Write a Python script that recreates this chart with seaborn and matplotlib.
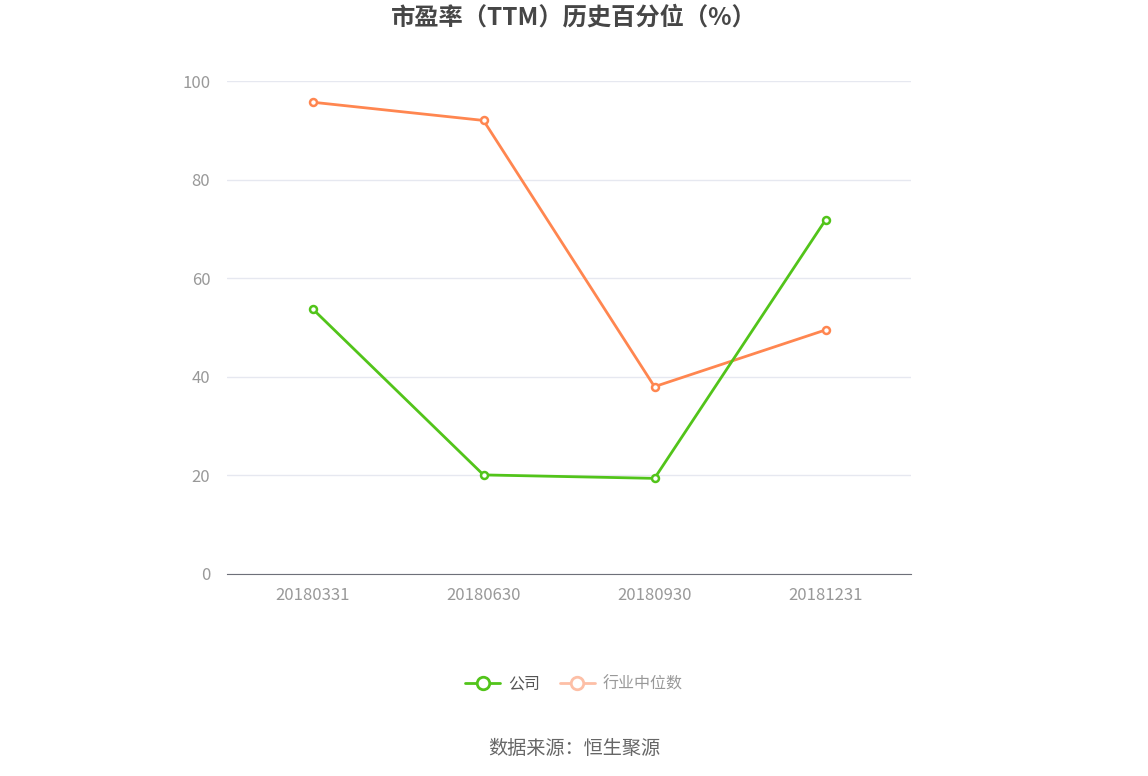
import matplotlib.pyplot as plt
import seaborn as sns
import pandas as pd
from matplotlib.lines import Line2D

dates = ["20180331", "20180630", "20180930", "20181231"]
company = [53.8, 20.1, 19.4, 71.8]
industry = [95.7, 92.0, 38.0, 49.5]

sns.set_style("white")
plt.rcParams['font.family'] = ['Noto Sans CJK SC', 'DejaVu Sans']

df = pd.DataFrame({"date": dates * 2,
                   "value": company + industry,
                   "series": ["公司"] * 4 + ["行业中位数"] * 4})

fig = plt.figure(figsize=(11.48, 7.76), dpi=100)
ax = fig.add_axes([227 / 1148, 1 - 574 / 776, (911 - 227) / 1148, (574 - 81) / 776])

colors = {"公司": "#52c41a", "行业中位数": "#ff8650"}
for name in ["行业中位数", "公司"]:
    d = df[df["series"] == name]
    x = [dates.index(v) for v in d["date"]]
    sns.lineplot(x=x, y=d["value"].values, ax=ax, color=colors[name], linewidth=2,
                 marker="o", markersize=5, markerfacecolor="white",
                 markeredgecolor=colors[name], markeredgewidth=1.8, legend=False)

ax.set_xlim(-0.5, 3.5)
ax.set_ylim(0, 100)
ax.set_yticks([0, 20, 40, 60, 80, 100])
ax.set_xticks(range(4))
ax.set_xticklabels(dates)
ax.grid(axis="y", color="#e6e8f0", linewidth=1)
ax.set_axisbelow(True)
for s in ["top", "right", "left"]:
    ax.spines[s].set_visible(False)
ax.spines["bottom"].set_color("#6e7079")
ax.tick_params(axis="x", colors="#999999", labelsize=12, length=5, color="#6e7079", pad=4)
ax.tick_params(axis="y", colors="#999999", labelsize=12, length=0, pad=12)
ax.set_xlabel("")
ax.set_ylabel("")

fig.text(0.5, 1 - 18 / 776, "市盈率（TTM）历史百分位（%）", ha="center", va="center",
         fontsize=17.5, fontweight="bold", color="#464646")

# legend
h1 = Line2D([], [], color="#52c41a", linewidth=2, marker="o", markersize=9,
            markerfacecolor="white", markeredgewidth=2)
h2 = Line2D([], [], color="#fdbfa6", linewidth=2, marker="o", markersize=9,
            markerfacecolor="white", markeredgewidth=2)
leg = fig.legend([h1, h2], ["公司", "行业中位数"], loc="center", bbox_to_anchor=(0.5, 1 - 684 / 776),
                 ncol=2, frameon=False, fontsize=11.5, handlelength=2.2, columnspacing=1.2,
                 handletextpad=0.5)
leg.get_texts()[0].set_color("#555555")
leg.get_texts()[1].set_color("#999999")

fig.text(0.5, 1 - 748 / 776, "数据来源：恒生聚源", ha="center", va="center",
         fontsize=13.8, color="#666666")

fig.savefig("out.png", dpi=100)
